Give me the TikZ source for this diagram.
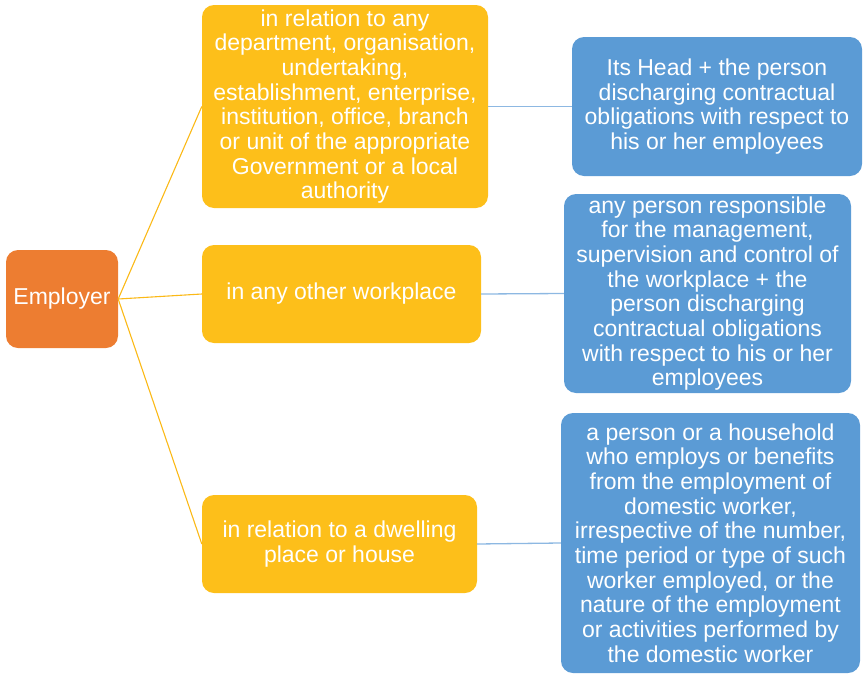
\documentclass[tikz,border=0pt]{standalone}
\usepackage{fontspec}
\setmainfont{Liberation Sans}
\definecolor{orgfill}{HTML}{ED7D31}
\definecolor{yelfill}{HTML}{FDBF1A}
\definecolor{bluefill}{HTML}{5B9BD5}
\definecolor{yelline}{HTML}{FBB917}
\definecolor{blueline}{HTML}{8DB8E2}
\begin{document}
\begin{tikzpicture}[x=1pt,y=-1pt,
  box/.style={rounded corners=12pt, inner sep=0pt, align=center, text=white,
    font=\fontsize{23}{24.7}\selectfont},
  orgbox/.style={box, fill=orgfill},
  yelbox/.style={box, fill=yelfill},
  bluebox/.style={box, fill=bluefill},
  yconn/.style={draw=yelline, line width=1.1pt},
  bconn/.style={draw=blueline, line width=1.3pt}]
\useasboundingbox (0,0) rectangle (863,675);
\node[orgbox, minimum width=112pt, minimum height=98pt] (emp) at (62,299) {Employer};
\node[yelbox, minimum width=286pt, minimum height=203pt] (y1) at (345,106.5)
  {in relation to any\\department, organisation,\\undertaking,\\establishment, enterprise,\\institution, office, branch\\or unit of the appropriate\\Government or a local\\authority};
\node[yelbox, minimum width=279pt, minimum height=98pt] (y2) at (341.5,294)
  {in any other workplace};
\node[yelbox, minimum width=275pt, minimum height=98pt] (y3) at (339.5,544)
  {in relation to a dwelling\\place or house};
\node[bluebox, minimum width=290pt, minimum height=139pt] (b1) at (717,106.5)
  {Its Head + the person\\discharging contractual\\obligations with respect to\\his or her employees};
\node[bluebox, minimum width=287pt, minimum height=199pt] (b2) at (707.5,293.5)
  {any person responsible\\for the management,\\supervision and control of\\the workplace + the\\person discharging\\contractual obligations\\with respect to his or her\\employees};
\node[bluebox, minimum width=299pt, minimum height=260pt] (b3) at (710.5,543)
  {a person or a household\\who employs or benefits\\from the employment of\\domestic worker,\\irrespective of the number,\\time period or type of such\\worker employed, or the\\nature of the employment\\or activities performed by\\the domestic worker};
\draw[yconn] (emp.east) -- (y1.west);
\draw[yconn] (emp.east) -- (y2.west);
\draw[yconn] (emp.east) -- (y3.west);
\draw[bconn] (y1.east) -- (b1.west);
\draw[bconn] (y2.east) -- (b2.west);
\draw[bconn] (y3.east) -- (b3.west);
\end{tikzpicture}
\end{document}
